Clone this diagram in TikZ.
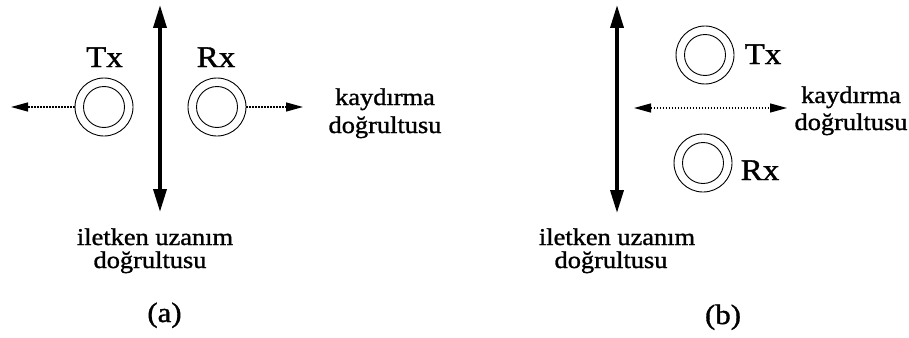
\documentclass[tikz,border=0pt]{standalone}
\usepackage{fontspec}
\setmainfont[FakeStretch=1.1,FakeBold=1.2]{Liberation Serif}
\usetikzlibrary{arrows.meta}

\tikzset{
  conductor/.style={line width=3.6pt, {Triangle[length=23pt,width=13pt]}-{Triangle[length=23pt,width=13pt]}},
  shiftarrow/.style={line width=1.3pt, dash pattern=on 1.5pt off 1.5pt, -{Triangle[length=17pt,width=9pt]}},
  shiftboth/.style={shiftarrow, {Triangle[length=17pt,width=9pt]}-{Triangle[length=17pt,width=9pt]}},
  coilouter/.style={circle, draw, line width=0.9pt, minimum size=58pt, inner sep=0pt},
  coilinner/.style={circle, draw, line width=0.9pt, minimum size=41pt, inner sep=0pt},
  coillabel/.style={font=\fontsize{30}{34}\selectfont, anchor=base, inner sep=0pt},
  dirlabel/.style={font=\fontsize{24}{28}\selectfont, anchor=base, inner sep=0pt},
  caption/.style={font=\fontsize{28}{32}\selectfont, anchor=base, inner sep=0pt}
}

\begin{document}
\begin{tikzpicture}[x=1pt,y=-1pt]
\useasboundingbox (0,0) rectangle (909,337);

% ---------- (a): coils side by side, shifted apart ----------
\coordinate (condAtop) at (160,5);
\coordinate (condAbot) at (160,212);
\draw[conductor] (condAtop) -- (condAbot);

\node[coilouter] (txA) at (104,107) {};
\node[coilinner] (txAin) at (txA.center) {};
\node[coilouter] (rxA) at (217,107) {};
\node[coilinner] (rxAin) at (rxA.center) {};

\node[coillabel] (txAlbl) at (104.5,67) {Tx};
\node[coillabel] (rxAlbl) at (216,67) {Rx};

\coordinate (shiftAleft) at (11,107);
\coordinate (shiftAright) at (303,107);
\draw[shiftarrow] (txA.west) -- (shiftAleft);
\draw[shiftarrow] (rxA.east) -- (shiftAright);

\node[dirlabel] (shiftA1) at (385,105) {kaydırma};
\node[dirlabel] (shiftA2) at (385,133) {doğrultusu};

\node[dirlabel] (condA1) at (155,245) {iletken uzanım};
\node[dirlabel] (condA2) at (150,268) {doğrultusu};

\node[caption] (capA) at (164.5,322) {(a)};

% ---------- (b): coils stacked, shifted sideways ----------
\coordinate (condBtop) at (617,5);
\coordinate (condBbot) at (617,213);
\draw[conductor] (condBtop) -- (condBbot);

\node[coilouter] (txB) at (705,55) {};
\node[coilinner] (txBin) at (txB.center) {};
\node[coilouter] (rxB) at (703,163) {};
\node[coilinner] (rxBin) at (rxB.center) {};

\node[coillabel] (txBlbl) at (763,64) {Tx};
\node[coillabel] (rxBlbl) at (760,180) {Rx};

\coordinate (shiftBleft) at (634,108);
\coordinate (shiftBright) at (787,108);
\draw[shiftboth] (shiftBleft) -- (shiftBright);

\node[dirlabel] (shiftB1) at (851,103) {kaydırma};
\node[dirlabel] (shiftB2) at (851,130) {doğrultusu};

\node[dirlabel] (condB1) at (617,245) {iletken uzanım};
\node[dirlabel] (condB2) at (611,268) {doğrultusu};

\node[caption] (capB) at (723,324) {(b)};
\end{tikzpicture}
\end{document}
